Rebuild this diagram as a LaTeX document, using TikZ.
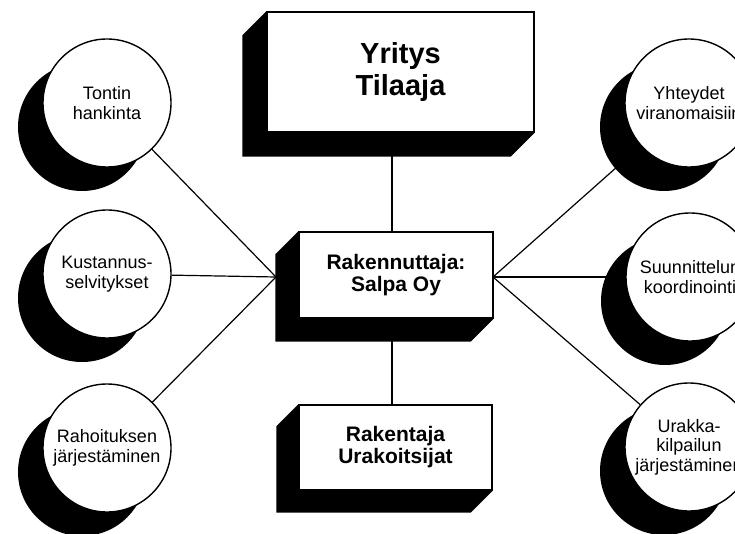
\documentclass[tikz,border=0pt]{standalone}
\usepackage{fontspec}
\setmainfont{Liberation Sans}
\pgfdeclarelayer{lines}
\pgfdeclarelayer{shade}
\pgfsetlayers{lines,shade,main}
\begin{document}
\begin{tikzpicture}[x=1pt,y=-1pt,
  bubble/.style={circle,draw,line width=1.4pt,fill=white,minimum size=128pt,inner sep=0pt,align=center,font=\fontsize{18}{19.5}\selectfont},
  block/.style={rectangle,draw,line width=1.4pt,fill=white,inner sep=0pt,align=center,font=\bfseries\fontsize{21}{22}\selectfont},
  link/.style={line width=1.2pt},
  solidshade/.style={fill=black}]
\useasboundingbox (0,0) rectangle (735,534);
\clip (0,0) rectangle (735,534);

% boxes
\node[block,minimum width=267pt,minimum height=120pt,font=\bfseries\fontsize{29}{32}\selectfont] (top) at (400.5,72) {Yritys\\Tilaaja};
\node[block,minimum width=194pt,minimum height=86pt] (mid) at (396,275) {Rakennuttaja:\\Salpa Oy};
\node[block,minimum width=193pt,minimum height=85pt] (bot) at (395.5,447.5) {Rakentaja\\Urakoitsijat};

% circles
\node[bubble] (l1) at (107,103) {Tontin\\hankinta};
\node[bubble] (l2) at (107,274) {Kustannus-\\selvitykset};
\node[bubble] (l3) at (107,448) {Rahoituksen\\järjestäminen};
\node[bubble] (r1) at (689,103) {Yhteydet\\viranomaisiin};
\node[bubble] (r2) at (690,277) {Suunnittelun\\koordinointi};
\node[bubble] (r3) at (689,447) {Urakka-\\kilpailun\\järjestäminen};

\coordinate (hubL) at (276,277);
\coordinate (hubR) at (493,277);
\coordinate (vx) at (392,0);

\begin{pgfonlayer}{shade}
\foreach \n in {l1,l2,l3,r1,r2,r3}
  \fill[solidshade] ([shift={(-25,24)}]\n.center) circle[radius=64];
\foreach \n/\d in {top/24,mid/23,bot/22}
  \fill[solidshade] (\n.north west) -- ++(-\d,\d) -- ([shift={(-\d,\d)}]\n.south west)
    -- ([shift={(-\d,\d)}]\n.south east) -- (\n.south east) -- cycle;
\end{pgfonlayer}

\begin{pgfonlayer}{lines}
\foreach \n in {l1,l2,l3}
  \draw[link] (\n) -- (hubL);
\foreach \n in {r1,r2,r3}
  \draw[link] (\n) -- (hubR);
\draw[link] (top.south -| vx) -- (mid.north -| vx);
\draw[link] (mid.south -| vx) -- (bot.north -| vx);
\end{pgfonlayer}
\end{tikzpicture}
\end{document}
